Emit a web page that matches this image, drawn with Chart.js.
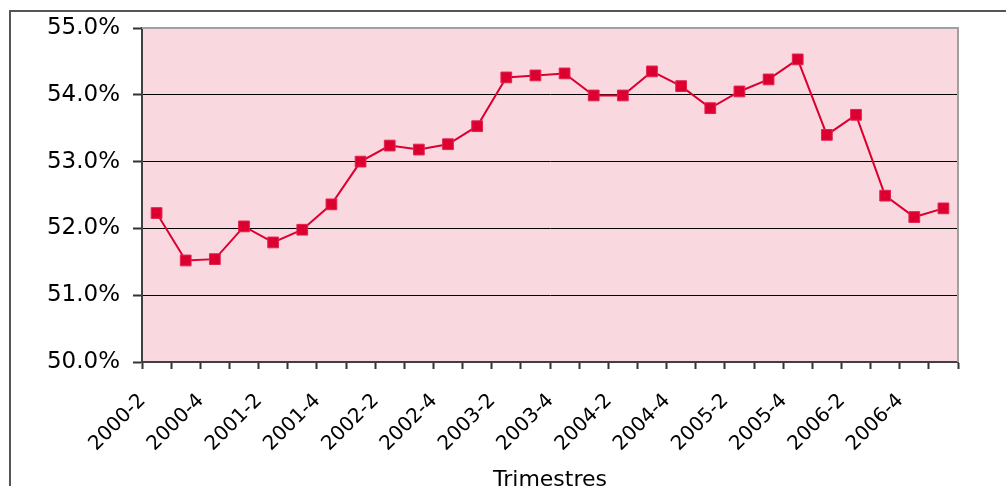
<!DOCTYPE html>
<html>
<head>
<meta charset="utf-8">
<script src="https://cdn.jsdelivr.net/npm/chart.js@4"></script>
<style>
  html, body { margin: 0; padding: 0; background: #ffffff; }
  #wrap { width: 1006px; height: 486px; }
</style>
</head>
<body>
<div id="wrap"><canvas id="trimChart" width="1006" height="486"></canvas></div>
<script>
// quarters 2000-2 .. 2007-1
const quarters = [
    '2000-2', '2000-3', '2000-4', '2001-1', '2001-2', '2001-3', '2001-4',
    '2002-1', '2002-2', '2002-3', '2002-4', '2003-1', '2003-2', '2003-3',
    '2003-4', '2004-1', '2004-2', '2004-3', '2004-4', '2005-1', '2005-2',
    '2005-3', '2005-4', '2006-1', '2006-2', '2006-3', '2006-4', '2007-1'
];
const shareValues = [
    52.23, 51.52, 51.54, 52.03, 51.79, 51.98, 52.36,
    53.00, 53.24, 53.18, 53.26, 53.53, 54.26, 54.29,
    54.32, 53.99, 53.99, 54.35, 54.13, 53.80, 54.05,
    54.23, 54.53, 53.40, 53.70, 52.49, 52.17, 52.30
];
const yTicks = [50, 51, 52, 53, 54, 55];
const xTitle = 'Trimestres';

const FONT = "'DejaVu Sans', sans-serif";

// pink plot background, grey top/right plot edge, outer frame
const framePlugin = {
    id: 'frame',
    beforeDraw: function (chart) {
        const c = chart.ctx;
        const a = chart.chartArea;
        c.save();
        c.fillStyle = '#f9d8df';
        c.fillRect(a.left, a.top, a.right - a.left, a.bottom - a.top);
        c.strokeStyle = '#555555';
        c.lineWidth = 2;
        c.strokeRect(10, 11, 1100, 600);
        c.restore();
    },
    beforeDatasetsDraw: function (chart) {
        const c = chart.ctx;
        const a = chart.chartArea;
        c.save();
        c.strokeStyle = '#a0a0a0';
        c.lineWidth = 2;
        c.beginPath();
        c.moveTo(a.left, a.top);
        c.lineTo(a.right, a.top);
        c.lineTo(a.right, a.bottom);
        c.stroke();
        c.restore();
    }
};

const ctx = document.getElementById('trimChart').getContext('2d');

new Chart(ctx, {
    type: 'line',
    data: {
        labels: quarters,
        datasets: [{
            data: shareValues,
            borderColor: '#dc0030',
            borderWidth: 2,
            backgroundColor: '#dc0030',
            pointStyle: 'rect',
            pointRadius: 7.6,
            pointBorderWidth: 1,
            pointBorderColor: '#e4234f',
            pointBackgroundColor: '#dc0030',
            tension: 0,
            fill: false
        }]
    },
    options: {
        responsive: false,
        animation: false,
        layout: { padding: { left: 0, top: 28, right: 48, bottom: 0 } },
        plugins: {
            legend: { display: false },
            tooltip: { enabled: false }
        },
        scales: {
            x: {
                type: 'category',
                offset: true,
                grid: {
                    offset: true,
                    drawOnChartArea: false,
                    drawTicks: true,
                    tickLength: 7,
                    tickColor: '#333333',
                    tickWidth: 2
                },
                border: { display: true, color: '#404040', width: 2 },
                ticks: {
                    autoSkip: false,
                    minRotation: 45,
                    maxRotation: 45,
                    padding: 20,
                    labelOffset: -14,
                    color: '#000000',
                    font: { family: FONT, size: 20 },
                    callback: function (val, i) {
                        return i % 2 === 0 ? quarters[i] : '';
                    }
                },
                title: {
                    display: true,
                    text: xTitle,
                    color: '#000000',
                    font: { family: FONT, size: 22 },
                    padding: { top: 0, bottom: -7 }
                },
                afterFit: function (scale) { scale.height = 486 - 362; }
            },
            y: {
                min: 50,
                max: 55,
                afterBuildTicks: function (scale) {
                    scale.ticks = yTicks.map(function (v) { return { value: v }; });
                },
                grid: {
                    color: function (c) { return c.tick && c.tick.value === 55 ? '#a0a0a0' : '#000000'; },
                    lineWidth: 1,
                    drawTicks: true,
                    tickLength: 9,
                    tickColor: '#333333',
                    tickWidth: 2
                },
                border: { display: true, color: '#404040', width: 2 },
                ticks: {
                    padding: 13,
                    color: '#000000',
                    font: { family: FONT, size: 23 },
                    callback: function (v) { return v.toFixed(1) + '%'; }
                },
                afterFit: function (scale) { scale.width = 142; }
            }
        }
    },
    plugins: [framePlugin]
});
</script>
</body>
</html>
